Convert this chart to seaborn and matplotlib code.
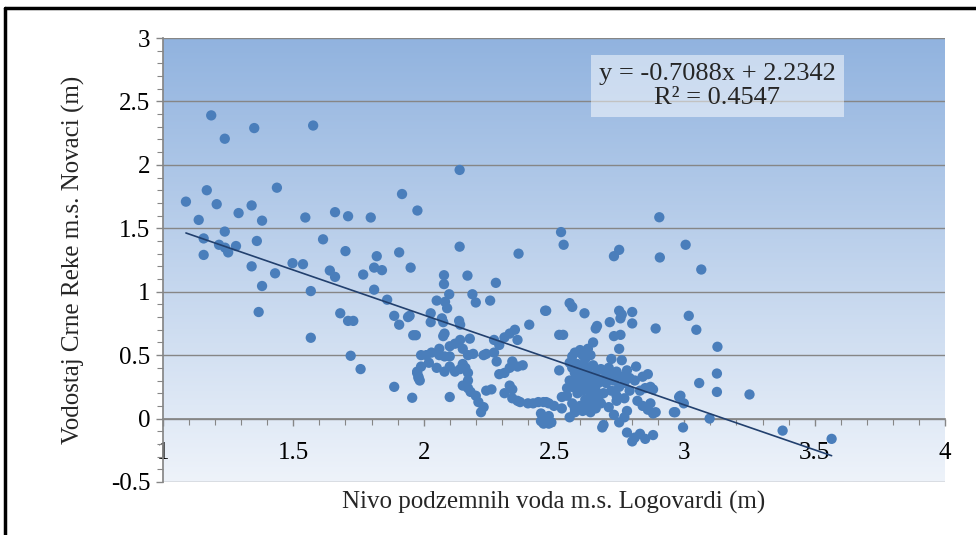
import numpy as np
import pandas as pd
import matplotlib
matplotlib.use('Agg')
import matplotlib.pyplot as plt
import seaborn as sns
from matplotlib.colors import LinearSegmentedColormap
from matplotlib.ticker import MultipleLocator, FuncFormatter

# nivo podzemnih voda (x) i vodostaj (y), ocitano sa grafika
x_left = [1.088, 1.137, 1.168, 1.185, 1.206, 1.237, 1.29, 1.34, 1.35, 1.38, 1.437, 1.237,
          1.156, 1.156, 1.215, 1.238, 1.25, 1.28, 1.36, 1.34, 1.38, 1.367, 1.43, 1.497,
          1.537, 1.546, 1.567, 1.576, 1.567, 1.614, 1.66, 1.71, 1.64, 1.66, 1.70, 1.68,
          1.71, 1.73, 1.72, 1.758, 1.768, 1.797, 1.82, 1.81, 1.84, 1.81, 1.86, 1.887,
          1.906, 1.917, 1.906, 1.887, 1.94, 1.95, 1.956, 1.976]
y_left = [1.71, 1.566, 1.80, 2.39, 1.69, 2.206, 1.62, 1.68, 2.29, 1.56, 1.82, 1.474,
          1.42, 1.29, 1.37, 1.347, 1.31, 1.36, 1.40, 1.20, 1.045, 0.84, 1.145, 1.225,
          1.217, 1.585, 1.005, 2.31, 0.637, 1.413, 1.627, 1.595, 1.167, 1.117, 1.32, 0.83,
          0.77, 0.77, 0.495, 0.39, 1.135, 1.585, 1.28, 1.19, 1.17, 1.016, 0.937, 0.81,
          1.31, 1.77, 0.74, 0.25, 0.80, 1.19, 0.164, 1.64]

x_mid = [1.96, 1.97, 1.99, 1.975, 1.98, 1.946, 1.985, 2.138, 2.138, 2.078, 2.078, 2.168,
         2.277, 2.364, 2.05, 2.082, 2.098, 2.09, 2.187, 2.20, 2.255, 2.466, 2.027, 2.027,
         2.07, 2.075, 2.136, 2.14, 2.405, 2.075, 2.08, 2.177, 2.27, 2.29, 2.31, 2.33,
         2.35, 2.36, 2.01, 2.03, 2.06, 2.10, 2.12, 2.14, 2.15, 2.17, 2.19, 2.23,
         2.24, 2.27, 1.975, 1.98, 2.05, 2.06, 2.08, 2.10, 2.08, 2.10, 2.12, 2.14,
         2.15, 2.16, 2.17, 2.17, 2.15, 2.17, 2.18, 2.20, 2.21, 2.22, 2.23, 2.24,
         2.26, 2.28, 2.29, 2.31, 2.33, 2.34, 2.36, 2.38, 2.31, 2.33, 2.34, 2.34,
         2.36, 2.37, 2.40, 2.42, 2.44, 2.46, 2.48, 2.10, 2.45, 2.48, 1.99, 2.02]
y_mid = [0.657, 0.657, 0.50, 0.36, 0.32, 0.81, 0.30, 1.96, 1.355, 1.13, 1.06, 1.127,
         1.07, 1.30, 0.93, 0.92, 0.98, 0.87, 0.98, 0.915, 0.93, 0.85, 0.83, 0.76,
         0.79, 0.76, 0.77, 0.74, 0.74, 0.65, 0.67, 0.63, 0.62, 0.58, 0.64, 0.67,
         0.70, 0.62, 0.50, 0.52, 0.55, 0.57, 0.59, 0.62, 0.55, 0.50, 0.51, 0.50,
         0.51, 0.52, 0.37, 0.33, 0.40, 0.50, 0.49, 0.49, 0.37, 0.41, 0.37, 0.39,
         0.43, 0.40, 0.36, 0.30, 0.26, 0.24, 0.21, 0.18, 0.13, 0.05, 0.09, 0.22,
         0.23, 0.45, 0.35, 0.36, 0.40, 0.45, 0.41, 0.42, 0.20, 0.26, 0.23, 0.16,
         0.14, 0.13, 0.12, 0.12, 0.13, 0.13, 0.12, 0.17, -0.02, -0.04, 0.41, 0.44]

x_dense = [2.527, 2.537, 2.75, 2.73, 2.906, 2.904, 2.56, 2.57, 2.47, 2.617, 2.75, 2.76,
           2.755, 2.80, 2.714, 2.80, 2.66, 2.665, 2.89, 2.52, 2.535, 2.73, 2.755, 2.65,
           2.75, 2.57, 2.58, 2.60, 2.61, 2.63, 2.64, 2.62, 2.72, 2.76, 2.52, 2.815,
           2.56, 2.57, 2.58, 2.59, 2.60, 2.61, 2.62, 2.63, 2.64, 2.65, 2.66, 2.67,
           2.68, 2.56, 2.57, 2.58, 2.59, 2.60, 2.61, 2.62, 2.63, 2.64, 2.65, 2.66,
           2.67, 2.68, 2.55, 2.57, 2.58, 2.60, 2.61, 2.63, 2.64, 2.66, 2.71, 2.72,
           2.73, 2.74, 2.75, 2.76, 2.77, 2.78, 2.79, 2.72, 2.74, 2.70, 2.69, 2.84,
           2.83, 2.85, 2.87, 2.88, 2.86, 2.82, 2.84, 2.86, 2.89, 2.87, 2.88, 2.53,
           2.53, 2.45, 2.46, 2.47, 2.48, 2.49, 2.50, 2.56, 2.58, 2.685, 2.69, 2.71,
           2.73, 2.75, 2.77, 2.78, 2.78, 2.81, 2.83, 2.85, 2.88, 2.80, 2.96, 2.98,
           2.59, 2.62, 2.65, 2.70, 2.74, 2.77, 2.81, 2.55, 2.68, 2.79]
y_dense = [1.47, 1.37, 1.33, 1.28, 1.27, 1.587, 0.91, 0.88, 0.85, 0.83, 0.85, 0.82,
           0.79, 0.84, 0.76, 0.75, 0.71, 0.73, 0.71, 0.66, 0.66, 0.65, 0.66, 0.60,
           0.55, 0.49, 0.52, 0.54, 0.50, 0.55, 0.50, 0.47, 0.47, 0.46, 0.38, 0.41,
           0.44, 0.40, 0.36, 0.43, 0.38, 0.33, 0.41, 0.36, 0.30, 0.42, 0.35, 0.28,
           0.39, 0.30, 0.25, 0.28, 0.20, 0.26, 0.22, 0.15, 0.24, 0.18, 0.12, 0.22,
           0.16, 0.30, 0.18, 0.12, 0.08, 0.10, 0.06, 0.09, 0.05, 0.08, 0.40, 0.35,
           0.30, 0.37, 0.25, 0.33, 0.28, 0.38, 0.22, 0.22, 0.18, 0.28, 0.20, 0.33,
           0.22, 0.24, 0.25, 0.23, 0.35, 0.14, 0.10, 0.07, 0.05, 0.12, 0.04, 0.08,
           0.17, 0.04, -0.04, 0.13, 0.02, -0.03, 0.10, 0.01, 0.05, -0.07, -0.05, 0.09,
           0.03, -0.03, 0.01, 0.06, -0.11, -0.15, -0.12, -0.16, -0.13, -0.18, 0.05, 0.17,
           0.31, 0.29, 0.26, 0.34, 0.14, 0.16, 0.30, 0.24, 0.12, 0.32]

x_right = [3.005, 3.065, 3.017, 3.046, 3.127, 3.125, 3.057, 3.125, 3.25, 2.985, 2.998,
           2.965, 3.097, 2.995, 3.377, 3.565]
y_right = [1.37, 1.175, 0.81, 0.70, 0.566, 0.355, 0.28, 0.21, 0.19, 0.18, 0.12,
           0.05, 0.0, -0.07, -0.095, -0.16]

# linearni trend (iz jednacine na grafiku)
slope = -0.7088
intercept = 2.2342
r2 = 0.4547

df = pd.DataFrame({'x': x_left + x_mid + x_dense + x_right,
                   'y': y_left + y_mid + y_dense + y_right})

sns.set_theme(style='white')
plt.rcParams['font.family'] = ['Liberation Serif', 'DejaVu Serif']
plt.rcParams['axes.unicode_minus'] = False

fig = plt.figure(figsize=(9.76, 5.35), dpi=100)
ax = fig.add_axes([163 / 976, 1 - 482 / 535, 782 / 976, 444 / 535])

# pozadina sa gradijentom
bg = LinearSegmentedColormap.from_list('bg', ['#eef3fa', '#91b3df'])
ax.imshow(np.linspace(0, 1, 256).reshape(-1, 1), extent=[1, 4, -0.5, 3],
          aspect='auto', cmap=bg, origin='lower', zorder=0)

sns.scatterplot(data=df, x='x', y='y', ax=ax, color='#4a7ebb', s=55,
                edgecolor='none', zorder=3)

xs = np.array([df['x'].min(), df['x'].max()])
ax.plot(xs, slope * xs + intercept, color='#22406e', lw=1.2, zorder=4)

ax.set_xlim(1, 4)
ax.set_ylim(-0.5, 3)

ax.yaxis.set_major_locator(MultipleLocator(0.5))
ax.yaxis.set_minor_locator(MultipleLocator(0.1))
ax.xaxis.set_major_locator(MultipleLocator(0.5))
ax.xaxis.set_minor_locator(MultipleLocator(0.1))
fmt = FuncFormatter(lambda v, p: f'{v:g}')
ax.xaxis.set_major_formatter(fmt)
ax.yaxis.set_major_formatter(fmt)

ax.set_axisbelow(True)
ax.yaxis.grid(True, color='#868686', lw=1)
ax.xaxis.grid(False)

for s in ['top', 'right']:
    ax.spines[s].set_visible(False)
ax.spines['bottom'].set_position(('data', 0))
ax.spines['bottom'].set_color('#868686')
ax.spines['left'].set_color('#868686')

ax.tick_params(axis='both', which='both', direction='out', color='#868686',
               labelsize=18, labelcolor='black')
ax.tick_params(axis='both', which='major', length=5, width=1)
ax.tick_params(axis='both', which='minor', length=4, width=0.8)
ax.tick_params(axis='x', which='major', pad=12)
ax.tick_params(axis='y', which='major', pad=4)
ax.tick_params(bottom=True, left=True, which='both')

ax.set_xlabel('Nivo podzemnih voda m.s. Logovardi (m)', fontsize=18, va='top')
ax.xaxis.set_label_coords(0.5, -0.02)
ax.set_ylabel('Vodostaj Crne Reke m.s. Novaci (m)', fontsize=18)
ax.yaxis.set_label_coords(-0.10, 0.5)

ax.text(3.127, 2.62, f'y = {slope}x + {intercept}\nR² = {r2}', ha='center',
        va='center', fontsize=19, linespacing=1.1, zorder=5,
        bbox=dict(boxstyle='square,pad=0.3', facecolor='white', alpha=0.5,
                  edgecolor='none'))

# okvir slike
fig.add_artist(plt.Line2D([5 / 976, 5 / 976], [0, 1 - 8 / 535], color='black',
                          lw=2.5, transform=fig.transFigure))
fig.add_artist(plt.Line2D([5 / 976, 1], [1 - 8 / 535, 1 - 8 / 535], color='black',
                          lw=2.5, transform=fig.transFigure))

fig.savefig('out.png', dpi=100)
